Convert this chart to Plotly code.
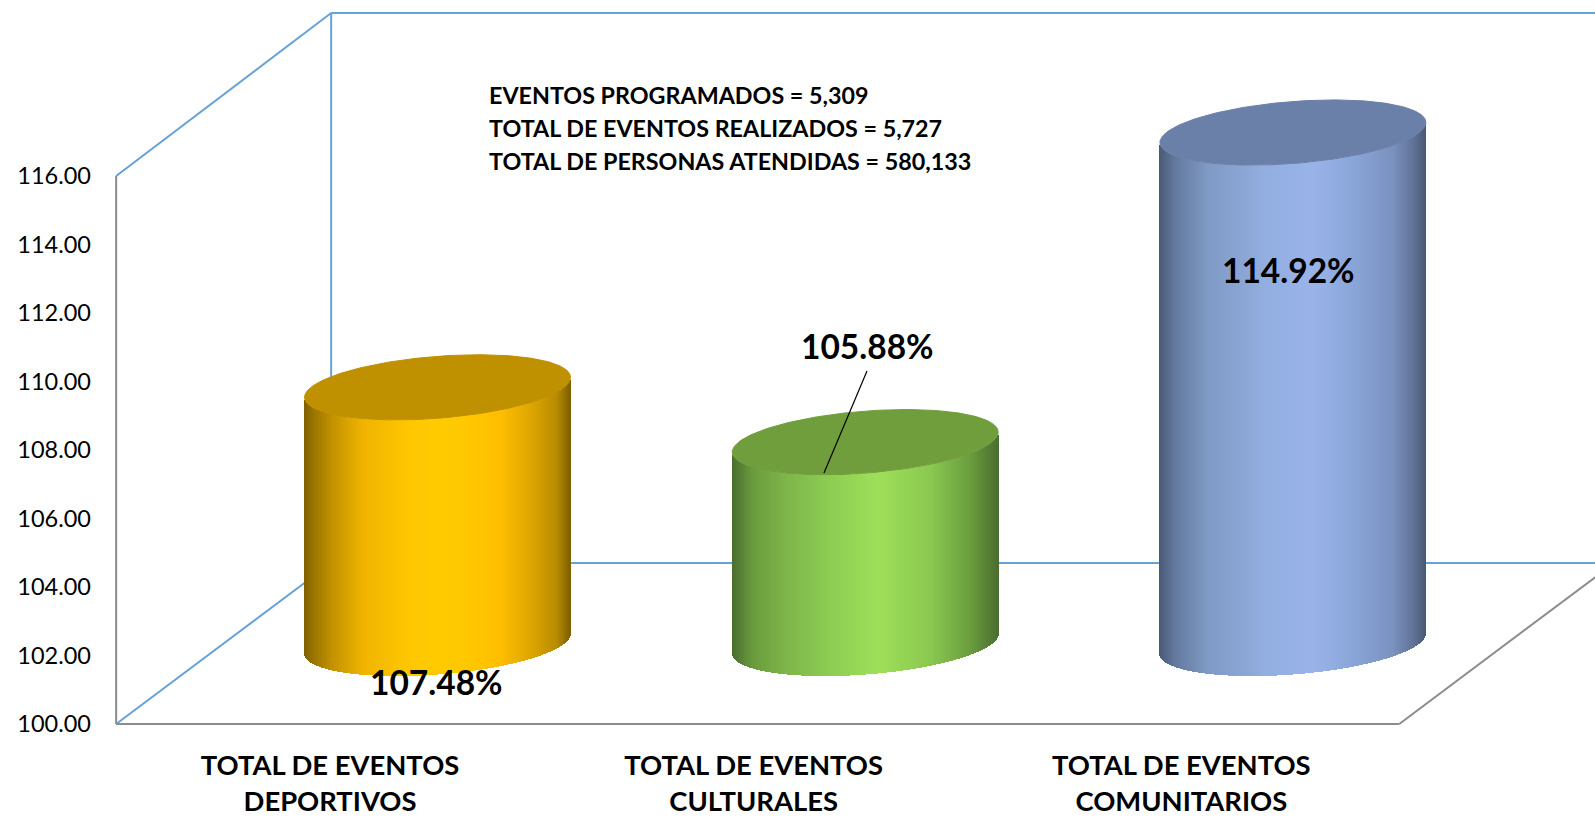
import numpy as np
import plotly.graph_objects as go

# ---- data ----
categories = ["TOTAL DE EVENTOS<br>DEPORTIVOS", "TOTAL DE EVENTOS<br>CULTURALES", "TOTAL DE EVENTOS<br>COMUNITARIOS"]
values = [107.48, 105.88, 114.92]
value_labels = ["107.48%", "105.88%", "114.92%"]
y_ticks = [100, 102, 104, 106, 108, 110, 112, 114, 116]
note_lines = ["EVENTOS PROGRAMADOS = 5,309", "TOTAL DE EVENTOS REALIZADOS = 5,727", "TOTAL DE PERSONAS ATENDIDAS = 580,133"]

# ---- styles ----
top_colors = ["#BF9000", "#709E3C", "#6B80A8"]
gradients = [
    [(0, "#7f6000"), (.03, "#967200"), (.1, "#c09000"), (.22, "#f0b400"), (.4, "#ffc800"), (.5, "#ffcb00"),
     (.62, "#ffc800"), (.74, "#ffbe00"), (.87, "#d8a200"), (.95, "#b88c00"), (1, "#7f6000")],
    [(0, "#4c6e30"), (.08, "#6a9c3e"), (.2, "#7eb54a"), (.35, "#8ccb52"), (.55, "#9fe05a"), (.75, "#8ac850"), (.9, "#6a9c3e"), (1, "#4c6e30")],
    [(0, "#4a5a75"), (.06, "#64799f"), (.18, "#7f9ac4"), (.4, "#93aee0"), (.58, "#9ab4ea"), (.72, "#8ba7da"),
     (.88, "#7b92bf"), (.96, "#5f7296"), (1, "#4a5a75")],
]
FONT = "Lato"
BLUE = "#66A2D8"
GRAY = "#8C8C8C"

# ---- layout geometry (pixels on the page) ----
W, H = 1595, 818
L, B = 92, 71               # plot margins
PX_PER_UNIT = 34.25         # vertical pixels per y unit
PX_PER_CAT = 427.7          # horizontal pixels per category
Y0_PX, X0_PX = 724.0, 330.0 # page position of y=100 and of category 0 on the front plane
DEPTH_X, DEPTH_Y = 215.0 / PX_PER_CAT, 161.0 / PX_PER_UNIT  # wall depth in data units
BACK_TOP_EXTRA = 2.0 / PX_PER_UNIT                          # back wall rises slightly higher
RX = 133.0 / PX_PER_CAT     # cylinder half width
SHEAR, RY = 10.0 / PX_PER_UNIT, 31.0 / PX_PER_UNIT          # ellipse tilt & minor axis
TICK_NUDGE = [0.0, -0.0095, -0.0095]                        # category label placement


def X(px):
    return (px - X0_PX) / PX_PER_CAT


def Y(py):
    return 100 + (Y0_PX - py) / PX_PER_UNIT


def hex2rgb(c):
    return np.array([int(c[i:i + 2], 16) for i in (1, 3, 5)], float)


def ramp(stops, u):
    pos = [s[0] for s in stops]
    rgb = np.array([hex2rgb(s[1]) for s in stops])
    return ["rgb(%d,%d,%d)" % tuple(np.interp(v, pos, rgb[:, k]) for k in range(3)) for v in u]


fig = go.Figure()
n = 266
for i, (val, grad, top) in enumerate(zip(values, gradients, top_colors)):
    cx = i + DEPTH_X / 2
    base_c = 100 + DEPTH_Y / 2
    top_c = val + DEPTH_Y / 2
    u = (np.arange(n) + .5) / n
    w = 2 * u - 1
    xs = cx + RX * w
    # front arc of the ellipses: lower edge of the visible wall
    arc = SHEAR * w - RY * np.sqrt(1 - w ** 2)
    fig.add_trace(go.Bar(x=xs, y=(top_c + arc) - (base_c + arc), base=base_c + arc,
                         width=2 * RX / n * 1.15, marker=dict(color=ramp(grad, u), line=dict(width=0)),
                         hoverinfo="skip", showlegend=False))
    t = np.linspace(0, 2 * np.pi, 241)
    fig.add_trace(go.Scatter(x=cx + RX * np.cos(t), y=top_c + SHEAR * np.cos(t) + RY * np.sin(t),
                             mode="lines", fill="toself", fillcolor=top, line=dict(color=top, width=1),
                             hoverinfo="skip", showlegend=False))

# leader line for the middle label
fig.add_trace(go.Scatter(x=[X(824), X(867)], y=[Y(473), Y(371)], mode="lines",
                         line=dict(color="black", width=1.2), hoverinfo="skip", showlegend=False))

# 3-D walls
x_l, x_r = -0.5, 2.5
y_b, y_t = y_ticks[0], y_ticks[-1]
dx, dy = DEPTH_X, DEPTH_Y
top_back = y_t + dy + BACK_TOP_EXTRA
wire = [
    (x_l, y_t, x_l + dx, top_back, BLUE), (x_l + dx, top_back, x_r + dx, top_back, BLUE),
    (x_l + dx, y_b + dy, x_l + dx, top_back, BLUE), (x_l + dx, y_b + dy, x_r + dx, y_b + dy, BLUE),
    (x_l, y_b, x_l + dx, y_b + dy, BLUE),
    (x_l, y_b, x_l, y_t, GRAY), (x_l, y_b, x_r, y_b, GRAY), (x_r, y_b, x_r + dx, y_b + dy, GRAY),
]
shapes = [dict(type="line", xref="x", yref="y", x0=a, y0=b, x1=c, y1=d, layer="below",
               line=dict(color=col, width=2)) for a, b, c, d, col in wire]

label_px = [(436, 682), (867, 346), (1288, 270)]
ann = [dict(x=X(px), y=Y(py), xref="x", yref="y", text="<b>%s</b>" % s, showarrow=False,
            font=dict(family=FONT, size=33.5, color="black"), xanchor="center", yanchor="middle")
       for s, (px, py) in zip(value_labels, label_px)]
note_y = [95, 128, 160.5]
ann += [dict(x=X(487), y=Y(py), xref="x", yref="y", text="<b>%s</b>" % s, showarrow=False,
             font=dict(family=FONT, size=23.3, color="black"), xanchor="left", yanchor="middle")
        for s, py in zip(note_lines, note_y)]

fig.update_layout(
    width=W, height=H, margin=dict(l=L, r=0, t=0, b=B, pad=0), autosize=False,
    paper_bgcolor="white", plot_bgcolor="rgba(0,0,0,0)", barmode="overlay", bargap=0,
    showlegend=False, shapes=shapes, annotations=ann,
    xaxis=dict(range=[X(L), X(W)], tickvals=[k + d for k, d in enumerate(TICK_NUDGE)],
               ticktext=["<b>%s</b>" % c.replace("<br>", "</b><br><b>") for c in categories],
               showgrid=False, zeroline=False, showline=False, ticks="", ticklen=0,
               tickfont=dict(family=FONT, size=27.4, color="black")),
    yaxis=dict(range=[Y(H - B), Y(0)], tickvals=y_ticks, tickformat=".2f", showgrid=False, zeroline=False,
               showline=False, ticks="", tickfont=dict(family=FONT, size=23.5, color="black")),
)
fig.write_html("out.html", config={"displayModeBar": False},
               post_script="document.body.style.margin='0';document.body.style.overflow='hidden';")
